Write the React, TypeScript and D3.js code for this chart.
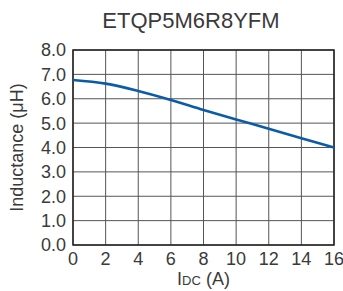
import React from 'react'
import * as d3 from 'd3'

const currents = [0, 2, 4, 6, 8, 10, 12, 14, 16]
const inductance = [6.77, 6.62, 6.32, 5.95, 5.54, 5.15, 4.77, 4.38, 4.0]
const xTicks = [0, 2, 4, 6, 8, 10, 12, 14, 16]
const yTicks = [0, 1, 2, 3, 4, 5, 6, 7, 8]

const width = 343
const height = 291
const margin = { top: 50, right: 9, bottom: 46, left: 73 }

export default function App() {
  const innerWidth = width - margin.left - margin.right
  const innerHeight = height - margin.top - margin.bottom

  const xScale = d3.scaleLinear().domain([0, 16]).range([0, innerWidth])
  const yScale = d3.scaleLinear().domain([0, 8]).range([innerHeight, 0])

  const line = d3.line<number>()
    .x((d, i) => xScale(currents[i]))
    .y(d => yScale(d))
    .curve(d3.curveCatmullRom)

  const font = '"Liberation Sans", Arial, sans-serif'
  const ink = '#3a3a3a'

  return (
    <svg width={width} height={height} style={{ position: 'absolute', left: 0, top: 0 }}>
      <rect width={width} height={height} fill="#fff" />
      <text x={191} y={28} textAnchor="middle" fontFamily={font} fontSize={22} fill={ink}>ETQP5M6R8YFM</text>
      <g transform={`translate(${margin.left},${margin.top})`}>
        {xTicks.map((t, i) => (
          <line key={'gx' + i} x1={xScale(t)} x2={xScale(t)} y1={0} y2={innerHeight} stroke="#555" strokeWidth={1} />
        ))}
        {yTicks.map((t, i) => (
          <line key={'gy' + i} x1={0} x2={innerWidth} y1={yScale(t)} y2={yScale(t)} stroke="#555" strokeWidth={1} />
        ))}
        <rect x={0} y={0} width={innerWidth} height={innerHeight} fill="none" stroke="#222" strokeWidth={1.5} />
        <path d={line(inductance) || ''} fill="none" stroke="#0b5ca8" strokeWidth={2.6} />
        {yTicks.map((t, i) => (
          <text key={'ty' + i} x={-7} y={yScale(t)} dy="0.36em" textAnchor="end" fontFamily={font} fontSize={18} fill={ink}>{t.toFixed(1)}</text>
        ))}
        {xTicks.map((t, i) => (
          <text key={'tx' + i} x={xScale(t)} y={innerHeight + 20} textAnchor="middle" fontFamily={font} fontSize={18} fill={ink}>{t}</text>
        ))}
        <text x={innerWidth / 2} y={innerHeight + 40} textAnchor="middle" fontFamily={font} fontSize={18} fill={ink}>
          I<tspan fontSize={13}>DC</tspan> (A)
        </text>
        <text transform={`translate(-50,${innerHeight / 2}) rotate(-90)`} textAnchor="middle" fontFamily={font} fontSize={18} fill={ink}>Inductance (μH)</text>
      </g>
    </svg>
  )
}
